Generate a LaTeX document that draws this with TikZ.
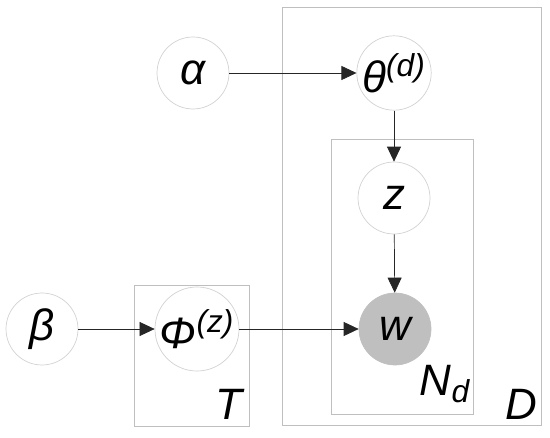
\documentclass[tikz,border=0pt]{standalone}
\usepackage{fontspec}
\setmainfont{Liberation Sans}
\usetikzlibrary{arrows.meta}

\tikzset{
    var/.style={draw=gray!35, circle, minimum size=1.44cm, inner sep=0pt, fill=white},
    obs/.style={var, fill=gray!50, draw=gray!50},
    plate/.style={draw=gray!50, rectangle, inner sep=0pt},
    link/.style={-{Triangle[length=0.3cm, width=0.28cm]}, black!85}
}

\begin{document}
\begin{tikzpicture}[
    x=0.02cm, y=-0.02cm,
    font=\fontsize{25}{28}\selectfont\itshape
]
\useasboundingbox (0,0) rectangle (550,438);

% 1. Placas (D, N_d, T)
\node[plate, minimum width=5.18cm, minimum height=8.36cm] (plateD) at (411.5,216) {};
\node[plate, minimum width=2.84cm, minimum height=5.5cm] (plateN) at (402,276.5) {};
\node[plate, minimum width=2.3cm, minimum height=2.82cm] (plateT) at (191.5,355.5) {};

\node (labD) at (521,404) {D};
\node (labN) at (445,384) {N\textsubscript{\fontsize{18}{20}\selectfont d}};
\node (labT) at (229,404) {T};

% 2. Variables
\node[var] (alpha) at (193,73) {α};
\node[var] (theta) at (394,73) {θ\textsuperscript{\fontsize{18}{20}\selectfont (d)}};
\node[var] (z) at (394,198) {z};
\node[obs] (w) at (395,329) {w};
\node[var] (beta) at (42,329) {β};
\node[var] (phi) at (197,329) {Φ\textsuperscript{\fontsize{18}{20}\selectfont (z)}};

% 3. Dependencias
\draw[link] (alpha) -- (theta);
\draw[link] (theta) -- (z);
\draw[link] (z) -- (w);
\draw[link] (beta) -- (phi);
\draw[link] (phi) -- (w);

\end{tikzpicture}
\end{document}
